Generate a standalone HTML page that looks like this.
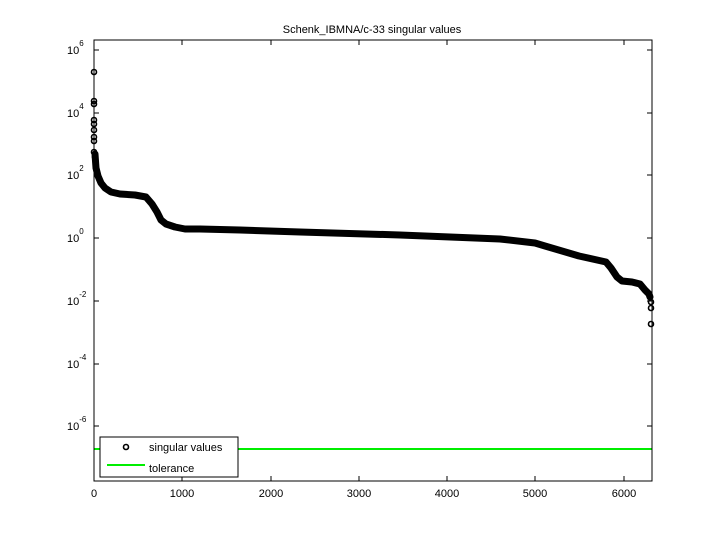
<!DOCTYPE html>
<html><head><style>body{margin:0;background:#fff}svg{display:block}</style></head><body>
<svg width="720" height="540" xmlns="http://www.w3.org/2000/svg" font-family="Liberation Sans, sans-serif" font-size="11">
<rect width="720" height="540" fill="#fff"/>
<text x="372" y="33" text-anchor="middle" font-size="11">Schenk_IBMNA/c-33 singular values</text>
<line x1="94" y1="449" x2="652" y2="449" stroke="#00ee00" stroke-width="2"/>
<g fill="none" stroke="#000" stroke-width="1.6">
<circle cx="94" cy="72" r="2.5"/><circle cx="94" cy="101" r="2.5"/><circle cx="94" cy="104" r="2.5"/>
<circle cx="94" cy="120" r="2.5"/><circle cx="94" cy="124" r="2.5"/><circle cx="94" cy="130" r="2.5"/>
<circle cx="94" cy="137" r="2.5"/><circle cx="94" cy="141" r="2.5"/><circle cx="94" cy="152" r="2.5"/>
<circle cx="95" cy="157" r="2.5"/><circle cx="651" cy="302" r="2.5"/><circle cx="651" cy="308" r="2.5"/><circle cx="651" cy="324" r="2.5"/>
</g>
<polyline fill="none" stroke="#000" stroke-width="7" stroke-linejoin="round" stroke-linecap="round"
points="95,154 96,168 98,176 101,183 105,188 111,192 120,194 135,195 146,197 152,204 157,212 161,220 166,224 175,227 185,229 200,229 240,230 300,232 400,235 450,237 500,239 535,243 545,246 579,256 606,262 611,268 617,277 622,281 632,282 640,284 645,290 649,294 650,297"/>
<g stroke="#000" stroke-width="1" fill="none">
<rect x="94" y="40" width="558" height="441"/>
</g>
<g stroke="#000" stroke-width="1">
<line x1="94" y1="50" x2="99" y2="50"/><line x1="652" y1="50" x2="647" y2="50"/>
<line x1="94" y1="113" x2="99" y2="113"/><line x1="652" y1="113" x2="647" y2="113"/>
<line x1="94" y1="175" x2="99" y2="175"/><line x1="652" y1="175" x2="647" y2="175"/>
<line x1="94" y1="238" x2="99" y2="238"/><line x1="652" y1="238" x2="647" y2="238"/>
<line x1="94" y1="301" x2="99" y2="301"/><line x1="652" y1="301" x2="647" y2="301"/>
<line x1="94" y1="364" x2="99" y2="364"/><line x1="652" y1="364" x2="647" y2="364"/>
<line x1="94" y1="426" x2="99" y2="426"/><line x1="652" y1="426" x2="647" y2="426"/>
<line x1="182" y1="481" x2="182" y2="476"/><line x1="182" y1="40" x2="182" y2="45"/>
<line x1="271" y1="481" x2="271" y2="476"/><line x1="271" y1="40" x2="271" y2="45"/>
<line x1="359" y1="481" x2="359" y2="476"/><line x1="359" y1="40" x2="359" y2="45"/>
<line x1="447" y1="481" x2="447" y2="476"/><line x1="447" y1="40" x2="447" y2="45"/>
<line x1="535" y1="481" x2="535" y2="476"/><line x1="535" y1="40" x2="535" y2="45"/>
<line x1="624" y1="481" x2="624" y2="476"/><line x1="624" y1="40" x2="624" y2="45"/>
</g>
<g text-anchor="middle">
<text x="94" y="497">0</text><text x="182" y="497">1000</text><text x="271" y="497">2000</text>
<text x="359" y="497">3000</text><text x="447" y="497">4000</text><text x="535" y="497">5000</text><text x="624" y="497">6000</text>
</g>
<g>
<text x="67" y="54">10<tspan font-size="8" dy="-8">6</tspan></text>
<text x="67" y="117">10<tspan font-size="8" dy="-8">4</tspan></text>
<text x="67" y="179">10<tspan font-size="8" dy="-8">2</tspan></text>
<text x="67" y="242">10<tspan font-size="8" dy="-8">0</tspan></text>
<text x="67" y="305">10<tspan font-size="8" dy="-8">-2</tspan></text>
<text x="67" y="368">10<tspan font-size="8" dy="-8">-4</tspan></text>
<text x="67" y="430">10<tspan font-size="8" dy="-8">-6</tspan></text>
</g>
<rect x="100" y="437" width="138" height="40" fill="#fff" stroke="#000"/>
<circle cx="126" cy="447" r="2.5" fill="none" stroke="#000" stroke-width="1.6"/>
<text x="149" y="451">singular values</text>
<line x1="107" y1="465" x2="145" y2="465" stroke="#00ee00" stroke-width="2"/>
<text x="149" y="472">tolerance</text>
</svg>
</body></html>
